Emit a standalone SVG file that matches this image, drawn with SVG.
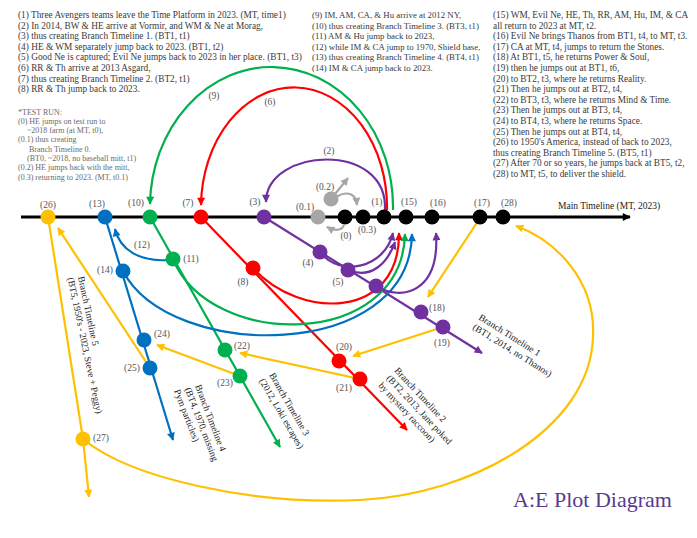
<svg xmlns="http://www.w3.org/2000/svg" width="697" height="538" viewBox="0 0 697 538">
<style>
.t{font-family:"Liberation Serif","Times New Roman",serif;font-size:9.3px;fill:#3a3a3a}
.tm{font-size:8.8px}
.tr{font-family:"Liberation Serif","Times New Roman",serif;font-size:8px;fill:#6b6b6b}
.lb{font-family:"Liberation Serif","Times New Roman",serif;font-size:9.5px;fill:#555;text-anchor:middle}
.bl{font-family:"Liberation Serif","Times New Roman",serif;font-size:9.5px;fill:#222}
.k{fill:#000}.p{fill:#7030A0}.r{fill:#FF0000}.g{fill:#00B050}.b{fill:#0070C0}.y{fill:#FFC000}.gr{fill:#A6A6A6}
.c{fill:none;stroke-width:2.2}
.sp{stroke:#7030A0}.sr{stroke:#FF0000}.sg{stroke:#00B050}.sb{stroke:#0070C0}.sy{stroke:#FFC000}.sgr{stroke:#A6A6A6}
</style>
<defs>
<marker id="mk" viewBox="0 0 10 10" refX="9" refY="5" markerWidth="10" markerHeight="8" markerUnits="userSpaceOnUse" orient="auto"><path d="M0,0 L10,5 L0,10 z" fill="#000"/></marker>
<marker id="mp" viewBox="0 0 10 10" refX="9" refY="5" markerWidth="10" markerHeight="8" markerUnits="userSpaceOnUse" orient="auto"><path d="M0,0 L10,5 L0,10 z" fill="#7030A0"/></marker>
<marker id="mr" viewBox="0 0 10 10" refX="9" refY="5" markerWidth="10" markerHeight="8" markerUnits="userSpaceOnUse" orient="auto"><path d="M0,0 L10,5 L0,10 z" fill="#FF0000"/></marker>
<marker id="mg" viewBox="0 0 10 10" refX="9" refY="5" markerWidth="10" markerHeight="8" markerUnits="userSpaceOnUse" orient="auto"><path d="M0,0 L10,5 L0,10 z" fill="#00B050"/></marker>
<marker id="mb" viewBox="0 0 10 10" refX="9" refY="5" markerWidth="10" markerHeight="8" markerUnits="userSpaceOnUse" orient="auto"><path d="M0,0 L10,5 L0,10 z" fill="#0070C0"/></marker>
<marker id="my" viewBox="0 0 10 10" refX="9" refY="5" markerWidth="10" markerHeight="8" markerUnits="userSpaceOnUse" orient="auto"><path d="M0,0 L10,5 L0,10 z" fill="#FFC000"/></marker>
<marker id="mgr" viewBox="0 0 10 10" refX="9" refY="5" markerWidth="10" markerHeight="8" markerUnits="userSpaceOnUse" orient="auto"><path d="M0,0 L10,5 L0,10 z" fill="#A6A6A6"/></marker>
</defs>
<rect width="697" height="538" fill="#fff"/>

<g id="notes">
<text class="t" x="18" y="18">(1) Three Avengers teams leave the Time Platform in 2023. (MT, time1)</text>
<text class="t" x="18" y="28.6">(2) In 2014, BW &amp; HE arrive at Vormir, and WM &amp; Ne at Morag,</text>
<text class="t" x="18" y="39.2">(3) thus creating Branch Timeline 1. (BT1, t1)</text>
<text class="t" x="18" y="49.8">(4) HE &amp; WM separately jump back to 2023. (BT1, t2)</text>
<text class="t" x="18" y="60.4">(5) Good Ne is captured; Evil Ne jumps back to 2023 in her place. (BT1, t3)</text>
<text class="t" x="18" y="71">(6) RR &amp; Th arrive at 2013 Asgard,</text>
<text class="t" x="18" y="81.6">(7) thus creating Branch Timeline 2. (BT2, t1)</text>
<text class="t" x="18" y="92.2">(8) RR &amp; Th jump back to 2023.</text>
<text class="t tm" x="312" y="18">(9) IM, AM, CA, &amp; Hu arrive at 2012 NY,</text>
<text class="t tm" x="312" y="28.6">(10) thus creating Branch Timeline 3. (BT3, t1)</text>
<text class="t tm" x="312" y="39.2">(11) AM &amp; Hu jump back to 2023,</text>
<text class="t tm" x="312" y="49.8">(12) while IM &amp; CA jump to 1970, Shield base,</text>
<text class="t tm" x="312" y="60.4">(13) thus creating Branch Timeline 4. (BT4, t1)</text>
<text class="t tm" x="312" y="71">(14) IM &amp; CA jump back to 2023.</text>
<text class="t" x="493" y="18">(15) WM, Evil Ne, HE, Th, RR, AM, Hu, IM, &amp; CA</text>
<text class="t" x="493" y="28.6">all return to 2023 at MT, t2.</text>
<text class="t" x="493" y="39.2">(16) Evil Ne brings Thanos from BT1, t4, to MT, t3.</text>
<text class="t" x="493" y="49.8">(17) CA at MT, t4, jumps to return the Stones.</text>
<text class="t" x="493" y="60.4">(18) At BT1, t5, he returns Power &amp; Soul,</text>
<text class="t" x="493" y="71">(19) then he jumps out at BT1, t6,</text>
<text class="t" x="493" y="81.6">(20) to BT2, t3, where he returns Reality.</text>
<text class="t" x="493" y="92.2">(21) Then he jumps out at BT2, t4,</text>
<text class="t" x="493" y="102.8">(22) to BT3, t3, where he returns Mind &amp; Time.</text>
<text class="t" x="493" y="113.4">(23) Then he jumps out at BT3, t4,</text>
<text class="t" x="493" y="124">(24) to BT4, t3, where he returns Space.</text>
<text class="t" x="493" y="134.6">(25) Then he jumps out at BT4, t4,</text>
<text class="t" x="493" y="145.2">(26) to 1950's America, instead of back to 2023,</text>
<text class="t" x="493" y="155.8">thus creating Branch Timeline 5. (BT5, t1)</text>
<text class="t" x="493" y="166.4">(27) After 70 or so years, he jumps back at BT5, t2,</text>
<text class="t" x="493" y="177">(28) to MT, t5, to deliver the shield.</text>
</g>

<g id="test-run">
<text class="tr" x="18" y="114.5">*TEST RUN:</text>
<text class="tr" x="18" y="123.8">(0) HE jumps on test run to</text>
<text class="tr" x="27" y="133.1">~2018 farm (at MT, t0),</text>
<text class="tr" x="18" y="142.4">(0.1) thus creating</text>
<text class="tr" x="29" y="151.7">Branch Timeline 0.</text>
<text class="tr" x="27" y="161">(BT0, ~2018, no baseball mitt, t1)</text>
<text class="tr" x="18" y="170.3">(0.2) HE jumps back with the mitt,</text>
<text class="tr" x="18" y="179.6">(0.3) returning to 2023. (MT, t0.1)</text>
</g>

<g id="connectors">
<path d="M21,217 L630,217" stroke="#000" stroke-width="2.8" fill="none" marker-end="url(#mk)"/>
<path d="M264,217 L482,353" class="c sp" stroke-width="2.6" marker-end="url(#mp)"/>
<path d="M201,217 L407,430" class="c sr" stroke-width="2.6" marker-end="url(#mr)"/>
<path d="M150,217 L280,447" class="c sg" stroke-width="2.6" marker-end="url(#mg)"/>
<path d="M105,217 L173,440" class="c sb" stroke-width="2.6" marker-end="url(#mb)"/>
<path d="M48,217 L83,439 L89,497" class="c sy" stroke-width="2.6" marker-end="url(#my)"/>
<path d="M393,210 A121.5,140 0 0 0 150,204" class="c sg" marker-end="url(#mg)"/>
<path d="M387,210 A93,120 0 0 0 201,205" class="c sr" marker-end="url(#mr)"/>
<path d="M385,210 C388,140 266,148 266,202" class="c sp" marker-end="url(#mp)"/>
<path d="M320,252 C340,278 385,268 393,233" class="c sp" marker-end="url(#mp)"/>
<path d="M348,270 C372,280 388,262 395,242" class="c sp" marker-end="url(#mp)"/>
<path d="M253,268 C300,320 400,320 399,233" class="c sr" marker-end="url(#mr)"/>
<path d="M173,259 C210,350 402,350 405,234" class="c sg" marker-end="url(#mg)"/>
<path d="M123,271 C170,362 410,362 412,234" class="c sb" marker-end="url(#mb)"/>
<path d="M376,286 C402,302 440,292 436,233" class="c sp" marker-end="url(#mp)"/>
<path d="M168,260 C140,262 120,250 115,229" class="c sb" marker-end="url(#mb)"/>
<path d="M331,199 L348,178" class="c sgr" marker-end="url(#mgr)"/>
<path d="M336,197 C348,190 356,194 357,205" class="c sgr" marker-end="url(#mgr)"/>
<path d="M344,225 C342,231 334,231 327,227" class="c sgr" marker-end="url(#mgr)"/>
<path d="M480,218 L428,297" class="c sy" marker-end="url(#my)"/>
<path d="M443,327 L353,356" class="c sy" marker-end="url(#my)"/>
<path d="M360,379 L240,353" class="c sy" marker-end="url(#my)"/>
<path d="M240,376 L157,345" class="c sy" marker-end="url(#my)"/>
<path d="M150,368 L58,228" class="c sy" marker-end="url(#my)"/>
<path d="M83,439 C130,478 250,505 360,500 C470,495 590,430 593,337 C596,280 555,240 516,226" class="c sy" marker-end="url(#my)"/>
</g>

<g id="n26"><circle cx="48" cy="217" r="7.5" class="y"/><text class="lb" x="48" y="208">(26)</text></g>
<g id="n13"><circle cx="105" cy="217" r="7.5" class="b"/><text class="lb" x="97" y="207">(13)</text></g>
<g id="n10"><circle cx="150" cy="217" r="7.5" class="g"/><text class="lb" x="136" y="206">(10)</text></g>
<g id="n7"><circle cx="201" cy="217" r="7.5" class="r"/><text class="lb" x="188" y="206">(7)</text></g>
<g id="n3"><circle cx="264" cy="217" r="7.5" class="p"/><text class="lb" x="255" y="205">(3)</text></g>
<g id="n0-1"><circle cx="318" cy="217" r="7.5" class="gr"/><text class="lb" x="305" y="210">(0.1)</text></g>
<g id="n0-2"><circle cx="331" cy="199" r="7.5" class="gr"/><text class="lb" x="325" y="190">(0.2)</text></g>
<g id="n0"><circle cx="345" cy="217" r="7.5" class="k"/><text class="lb" x="346" y="239">(0)</text></g>
<g id="n0-3"><circle cx="363" cy="217" r="7.5" class="k"/><text class="lb" x="367" y="233">(0.3)</text></g>
<g id="n1"><circle cx="384" cy="217" r="7.5" class="k"/><text class="lb" x="377" y="205">(1)</text></g>
<g id="n15"><circle cx="406" cy="217" r="7.5" class="k"/><text class="lb" x="409" y="205">(15)</text></g>
<g id="n16"><circle cx="432" cy="217" r="7.5" class="k"/><text class="lb" x="438" y="206">(16)</text></g>
<g id="n17"><circle cx="480" cy="217" r="7.5" class="k"/><text class="lb" x="482" y="206">(17)</text></g>
<g id="n28"><circle cx="503" cy="217" r="7.5" class="k"/><text class="lb" x="509" y="206">(28)</text></g>
<g id="n4"><circle cx="320" cy="252" r="7.5" class="p"/><text class="lb" x="308" y="266">(4)</text></g>
<g id="n5"><circle cx="348" cy="270" r="7.5" class="p"/><text class="lb" x="338" y="285">(5)</text></g>
<g id="nbt1"><circle cx="376" cy="286" r="7.5" class="p"/></g>
<g id="n18"><circle cx="421" cy="312" r="7.5" class="p"/><text class="lb" x="437" y="311">(18)</text></g>
<g id="n19"><circle cx="443" cy="327" r="7.5" class="p"/><text class="lb" x="442" y="346">(19)</text></g>
<g id="n8"><circle cx="253" cy="268" r="7.5" class="r"/><text class="lb" x="243" y="285">(8)</text></g>
<g id="n20"><circle cx="339" cy="361" r="7.5" class="r"/><text class="lb" x="344" y="350">(20)</text></g>
<g id="n21"><circle cx="360" cy="379" r="7.5" class="r"/><text class="lb" x="344" y="391">(21)</text></g>
<g id="n11"><circle cx="173" cy="259" r="7.5" class="g"/><text class="lb" x="191" y="262">(11)</text></g>
<g id="n22"><circle cx="225" cy="350" r="7.5" class="g"/><text class="lb" x="242" y="349">(22)</text></g>
<g id="n23"><circle cx="240" cy="376" r="7.5" class="g"/><text class="lb" x="225" y="386">(23)</text></g>
<g id="n14"><circle cx="123" cy="271" r="7.5" class="b"/><text class="lb" x="105" y="273">(14)</text></g>
<g id="n24"><circle cx="144" cy="340" r="7.5" class="b"/><text class="lb" x="162" y="337">(24)</text></g>
<g id="n25"><circle cx="150" cy="368" r="7.5" class="b"/><text class="lb" x="132" y="371">(25)</text></g>
<g id="n27"><circle cx="83" cy="439" r="7.5" class="y"/><text class="lb" x="101" y="441">(27)</text></g>

<g id="arc-labels">
<text class="lb" x="329" y="154">(2)</text>
<text class="lb" x="214" y="99">(9)</text>
<text class="lb" x="270" y="105">(6)</text>
<text class="lb" x="142" y="248">(12)</text>
</g>

<g id="branch-labels">
<text class="bl" x="558" y="209" font-size="10.3">Main Timeline (MT, 2023)</text>
<text class="bl" transform="translate(478,319) rotate(32)"><tspan x="0" y="0">Branch Timeline 1</tspan><tspan x="0" y="11.5">(BT1, 2014, no Thanos)</tspan></text>
<text class="bl" transform="translate(394,371) rotate(47)"><tspan x="0" y="0">Branch Timeline 2</tspan><tspan x="0" y="11">(BT2, 2013, Jane poked</tspan><tspan x="0" y="22">by mystery raccoon)</tspan></text>
<text class="bl" transform="translate(269,375) rotate(60)"><tspan x="0" y="0">Branch Timeline 3</tspan><tspan x="0" y="11.5">(2012, Loki escapes)</tspan></text>
<text class="bl" transform="translate(195,386) rotate(69)"><tspan x="0" y="0">Branch Timeline 4</tspan><tspan x="-1" y="10.7">(BT4, 1970, missing</tspan><tspan x="-3" y="21.4">Pym particles)</tspan></text>
<text class="bl" transform="translate(78,277) rotate(78)"><tspan x="0" y="0">Branch Timeline 5</tspan><tspan x="-1" y="10.5">(BT5, 1950's - 2023, Steve + Peggy)</tspan></text>
</g>

<g id="title"><text x="513" y="507" font-family="Liberation Serif, Times New Roman, serif" font-size="22" fill="#5B3A8E">A:E Plot Diagram</text></g>
</svg>
